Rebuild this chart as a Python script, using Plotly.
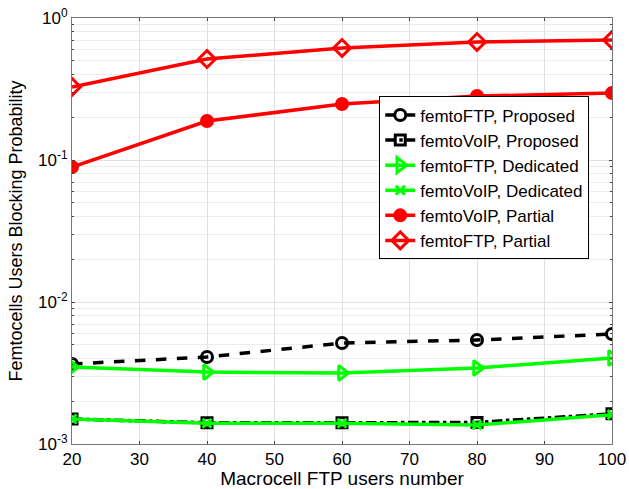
import plotly.graph_objects as go

x_users = [20, 40, 60, 80, 100]
ftp_proposed = [0.00366, 0.0041, 0.00514, 0.0054, 0.00595]
voip_proposed = [0.0015, 0.00141, 0.00141, 0.00142, 0.00163]
ftp_dedicated = [0.00348, 0.00321, 0.00316, 0.00343, 0.00403]
voip_dedicated = [0.0015, 0.0014, 0.0014, 0.00136, 0.00161]
voip_partial = [0.0893, 0.188, 0.248, 0.282, 0.296]
ftp_partial = [0.327, 0.514, 0.615, 0.678, 0.70]

y_tickvals = [1, 0.1, 0.01, 0.001]
y_ticktext = ["10<sup>0</sup>", "10<sup>-1</sup>", "10<sup>-2</sup>", "10<sup>-3</sup>"]
x_tickvals = [20, 30, 40, 50, 60, 70, 80, 90, 100]

series = [
    ("femtoFTP, Proposed", ftp_proposed, "black", "dash", "circle-open", 11),
    ("femtoVoIP, Proposed", voip_proposed, "black", "dashdot", "square-open", 10),
    ("femtoFTP, Dedicated", ftp_dedicated, "#00ff00", "solid", "triangle-right-open", 13),
    ("femtoVoIP, Dedicated", voip_dedicated, "#00ff00", "solid", "x-thin-open", 9),
    ("femtoVoIP, Partial", voip_partial, "#ff0000", "solid", "circle", 11),
    ("femtoFTP, Partial", ftp_partial, "#ff0000", "solid", "diamond-open", 13),
]

fig = go.Figure()
for name, vals, col, dash, sym, size in series:
    fig.add_trace(go.Scatter(
        x=x_users, y=vals, name=name, mode="lines+markers",
        line=dict(color=col, width=3.5, dash=dash),
        marker=dict(symbol=sym, size=size, color=col, line=dict(color=col, width=3)),
    ))

fig.update_layout(
    width=629, height=489,
    margin=dict(l=72, r=17, t=18, b=45, autoexpand=False),
    paper_bgcolor="white", plot_bgcolor="white",
    font=dict(family="Liberation Sans, Arial, sans-serif", size=17, color="black"),
    legend=dict(
        x=0.569, y=0.816, xanchor="left", yanchor="top",
        bordercolor="black", borderwidth=1, bgcolor="white",
        font=dict(size=17), tracegroupgap=0,
    ),
    showlegend=True,
)
fig.update_xaxes(
    range=[20, 100], tickvals=x_tickvals, ticks="inside", ticklen=3, automargin=False,
    showgrid=True, gridcolor="#e0e0e0", gridwidth=1,
    showline=True, linecolor="#777", mirror="ticks", zeroline=False,
    title=dict(text="Macrocell FTP users number", font=dict(size=19), standoff=0),
)
fig.update_yaxes(
    type="log", range=[-3, 0], tickvals=y_tickvals, ticktext=y_ticktext,
    ticks="inside", ticklen=3, automargin=False,
    showgrid=True, gridcolor="#e0e0e0", gridwidth=1,
    minor=dict(dtick="D1", showgrid=True, gridcolor="#ececec", ticks="inside", ticklen=2),
    showline=True, linecolor="#777", mirror="ticks", zeroline=False,
    title=dict(text="Femtocells Users Blocking Probability", font=dict(size=18), standoff=10),
)

fig.write_html("out.html")
